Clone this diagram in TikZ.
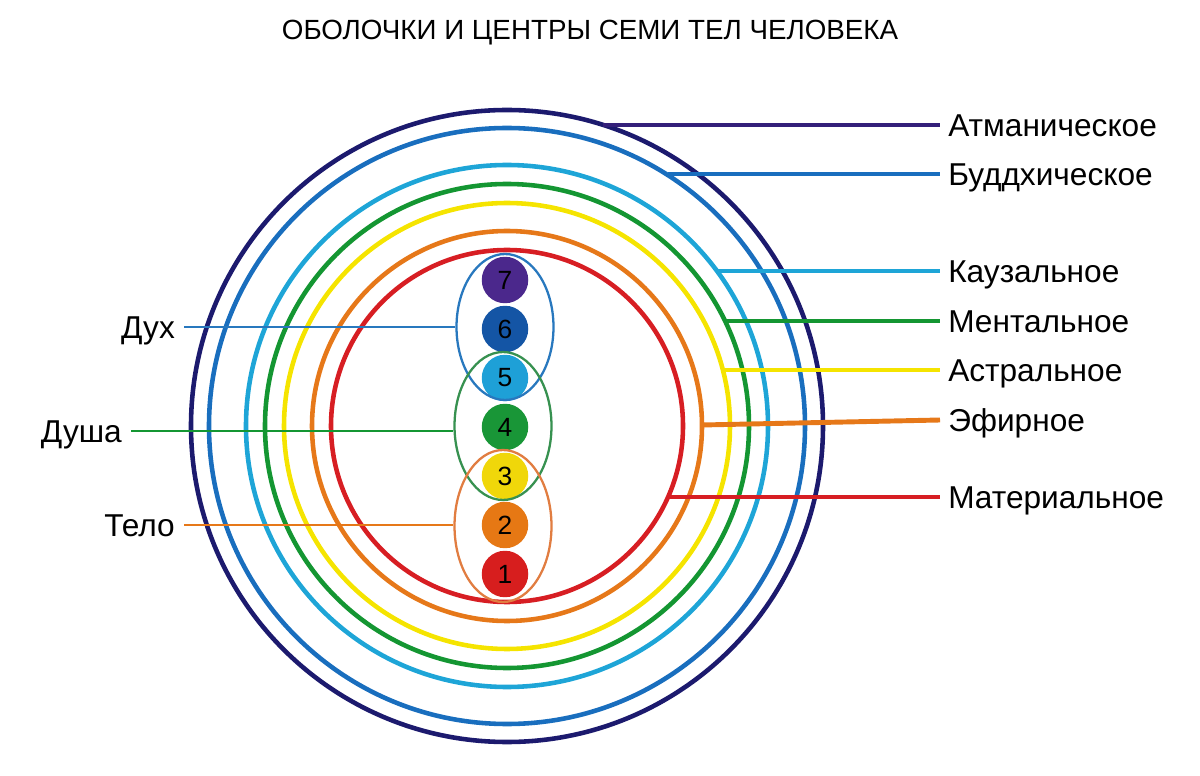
\documentclass[tikz,border=0pt]{standalone}
\usepackage{fontspec}
\setmainfont{Liberation Sans}
\usetikzlibrary{shapes.geometric}

% shell colours
\definecolor{atman}{RGB}{28,26,110}
\definecolor{atmanline}{RGB}{52,32,122}
\definecolor{buddhi}{RGB}{25,110,190}
\definecolor{causal}{RGB}{30,165,215}
\definecolor{mental}{RGB}{20,150,50}
\definecolor{astral}{RGB}{245,228,0}
\definecolor{etheric}{RGB}{230,120,25}
\definecolor{material}{RGB}{215,30,35}

% centre colours
\definecolor{csev}{RGB}{75,40,140}
\definecolor{csix}{RGB}{20,85,165}
\definecolor{cfiv}{RGB}{30,160,215}
\definecolor{cfou}{RGB}{25,150,55}
\definecolor{cthr}{RGB}{240,215,10}
\definecolor{ctwo}{RGB}{230,120,20}
\definecolor{cone}{RGB}{215,30,30}

% group colours
\definecolor{spiritc}{RGB}{40,120,190}
\definecolor{soulc}{RGB}{55,145,80}
\definecolor{bodyc}{RGB}{225,125,65}

\begin{document}
\begin{tikzpicture}[x=0.02cm, y=-0.02cm,
	ring/.style={line width=2.6pt},
	tie/.style={line width=2.8pt},
	link/.style={line width=1.6pt},
	lbl/.style={font=\fontsize{18}{21}\selectfont, text height=13pt, text depth=0pt, inner xsep=4.5pt},
	lbll/.style={lbl, anchor=east, inner xsep=5pt},
	lblr/.style={lbl, anchor=west},
	chakra/.style={circle, minimum size=0.93cm, inner sep=0pt, font=\fontsize{15}{17}\selectfont},
	group/.style={ellipse, minimum width=1.94cm, line width=1.3pt, inner sep=0pt}]

% page frame
	\useasboundingbox (0,0) rectangle (1200,776);

% title
	\node[font=\fontsize{15.8}{19}\selectfont] (title) at (590,33)
		{ОБОЛОЧКИ И ЦЕНТРЫ СЕМИ ТЕЛ ЧЕЛОВЕКА};

% draw the seven shells
	\coordinate (c) at (507,426);
	\draw[ring, atman]    (c) circle[radius=316];
	\draw[ring, buddhi]   (c) circle[radius=298];
	\draw[ring, causal]   (c) circle[radius=261];
	\draw[ring, mental]   (c) circle[radius=242];
	\draw[ring, astral]   (c) circle[radius=223];
	\draw[ring, etheric]  (c) circle[radius=195];
	\draw[ring, material] (c) circle[radius=176];

% centres 1 to 7
	\node[chakra, fill=csev] (k7) at (505,280) {7};
	\node[chakra, fill=csix] (k6) at (505,329) {6};
	\node[chakra, fill=cfiv] (k5) at (505,378) {5};
	\node[chakra, fill=cfou] (k4) at (505,427) {4};
	\node[chakra, fill=cthr] (k3) at (505,476) {3};
	\node[chakra, fill=ctwo] (k2) at (505,525) {2};
	\node[chakra, fill=cone] (k1) at (505,574) {1};

% groups of centres
	\node[group, draw=spiritc, minimum height=2.92cm] (spirit) at (505,327) {};
	\node[group, draw=soulc, minimum height=2.96cm] (soul) at (503,426) {};
	\node[group, draw=bodyc, minimum height=3.04cm] (body) at (503,526) {};

% left labels
	\node[lbll] (dukh) at (184,327) {Дух};
	\node[lbll] (dusha) at (131,431) {Душа};
	\node[lbll] (telo) at (184,525) {Тело};

	\draw[link, spiritc] (dukh.east) -- (dukh.east -| spirit.west);
	\draw[link, mental] (dusha.east) -- (dusha.east -| soul.west);
	\draw[link, etheric] (telo.east) -- (telo.east -| body.west);

% right labels
	\node[lblr] (atm) at (940,125) {Атманическое};
	\node[lblr] (bud) at (940,174) {Буддхическое};
	\node[lblr] (cau) at (940,271) {Каузальное};
	\node[lblr] (men) at (940,321) {Ментальное};
	\node[lblr] (ast) at (940,370) {Астральное};
	\node[lblr] (eth) at (940,420) {Эфирное};
	\node[lblr] (mat) at (940,497) {Материальное};

	\coordinate (s7) at (603,125);
	\coordinate (s6) at (668,174);
	\coordinate (s5) at (717,271);
	\coordinate (s4) at (725,321);
	\coordinate (s3) at (723,370);
	\coordinate (s2) at (702,425);
	\coordinate (s1) at (668,497);

	\draw[tie, atmanline] (s7) -- (atm.west);
	\draw[tie, buddhi]    (s6) -- (bud.west);
	\draw[tie, causal]    (s5) -- (cau.west);
	\draw[tie, mental]    (s4) -- (men.west);
	\draw[tie, astral]    (s3) -- (ast.west);
	\draw[tie, etheric]   (s2) -- (eth.west);
	\draw[tie, material]  (s1) -- (mat.west);

\end{tikzpicture}
\end{document}
